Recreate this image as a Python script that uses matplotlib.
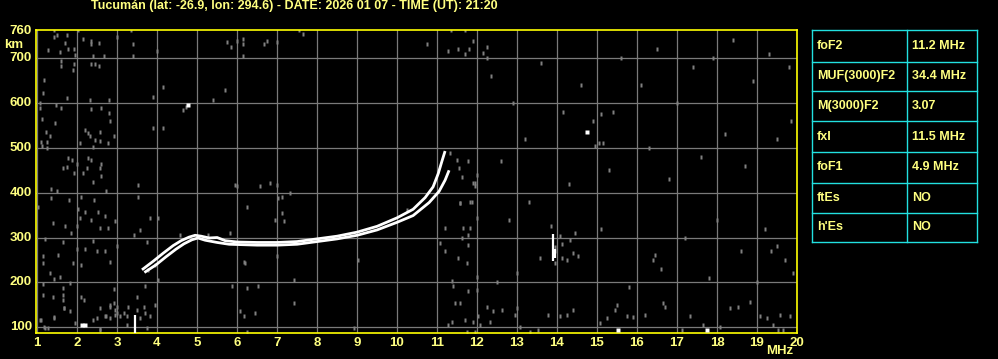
import matplotlib
matplotlib.use("Agg")
import matplotlib.pyplot as plt

# ---------------- data ----------------
title = "Tucumán (lat: -26.9, lon: 294.6) - DATE: 2026 01 07 - TIME (UT): 21:20"
x_ticks = list(range(1, 21))
y_ticks = [100, 200, 300, 400, 500, 600, 700, 760]

# ordinary trace
o_f = [3.62, 3.9, 4.15, 4.4, 4.6, 4.8, 4.95, 5.1, 5.3, 5.5, 5.7, 6.0, 6.5, 7.0, 7.5,
       8.0, 8.5, 9.0, 9.5, 10.0, 10.4, 10.7, 10.9, 11.03, 11.12, 11.2]
o_km = [228, 247, 265, 282, 293, 301, 305, 303, 299, 300, 293, 290, 289, 289, 291,
        297, 303, 312, 325, 344, 363, 389, 413, 443, 470, 493]
# extraordinary trace
x_f = [3.68, 3.97, 4.22, 4.47, 4.67, 4.87, 5.02, 5.2, 5.5, 5.8, 6.5, 7.0, 7.5,
       8.0, 8.5, 9.0, 9.5, 10.0, 10.4, 10.8, 11.05, 11.2, 11.3]
x_km = [222, 239, 257, 274, 286, 295, 299, 294, 289, 285, 283, 283, 285,
        291, 297, 305, 317, 334, 349, 378, 403, 428, 450]

# isolated bright echoes (segments)
seg_f = [3.44, 13.89, 13.95]
seg_km0 = [87, 248, 255]
seg_km1 = [127, 308, 275]
dot_f = [2.12, 2.2, 4.78, 14.74, 15.53, 17.74]
dot_km = [104, 104, 596, 536, 94, 94]

# grey noise speckles
noise_f = [1.41, 1.49, 1.41, 1.74, 1.70, 1.57, 1.78, 1.93, 1.95, 1.28, 2.01, 2.14, 2.34, 2.34,
           2.55, 2.39, 2.66, 2.99, 3.34, 3.39, 3.39, 3.99, 5.74, 5.84, 5.99, 6.14, 6.14, 6.66,
           6.74, 6.99, 7.54, 7.64, 6.14, 10.74, 11.34, 11.7, 11.89, 11.28, 11.53, 11.8, 11.7,
           12.14, 12.24,
           1.16, 1.14, 1.06, 1.48, 1.59, 1.74, 1.89, 1.91, 1.59, 1.59, 2.34, 2.45, 2.55, 2.31,
           2.34, 2.59, 2.8, 2.8, 2.83, 1.06, 1.12, 1.22, 1.33, 1.45, 1.09, 1.24, 1.12, 1.24,
           2.08, 2.2, 2.28, 2.31, 2.45, 2.56, 2.78, 2.91, 2.39, 2.56, 1.78, 1.87, 1.64, 1.74,
           1.91, 1.99, 2.14, 2.24, 2.26, 2.34, 2.56, 2.59, 2.59, 2.39, 1.34, 1.49, 1.34, 1.8,
           2.09, 2.41, 2.73, 1.03, 1.39, 1.7, 1.84, 1.99, 2.06, 2.2, 2.34, 2.51, 2.7, 2.56,
           2.78, 2.95, 2.02, 1.2, 1.64, 1.99, 2.2, 2.39, 2.49, 2.7, 2.81, 2.99, 1.14, 1.14,
           1.53, 1.56, 1.89, 2.1, 1.33, 1.41, 1.14, 1.14, 1.39, 1.64, 1.64, 1.64, 1.66, 1.83,
           2.1, 2.16, 2.91, 2.83, 2.99, 2.58, 2.73, 2.83, 2.95, 1.09, 1.2, 1.41, 2.58, 2.39,
           1.08, 1.16, 1.28, 1.41, 1.66, 1.83, 1.95, 2.58, 2.49, 2.7, 2.83, 2.91, 2.95, 2.99,
           3.08, 3.16, 3.24, 3.28, 3.24, 3.49, 3.58, 3.66, 3.7, 3.83, 3.95, 3.74, 6.08, 6.16,
           6.45, 6.24, 7.41, 8.91, 11.28, 11.37, 11.7, 11.91, 12.03, 12.08, 12.33, 12.41,
           12.24, 11.74, 11.95, 11.45, 11.58,
           13.78, 14.41, 14.08, 14.24, 15.08, 15.24, 15.45, 15.49, 15.74, 15.91, 16.2, 16.66,
           16.7, 17.12, 17.33, 17.66, 18.08, 18.33, 18.53, 18.83, 19.08, 19.24, 19.41, 19.53,
           19.66, 19.58, 19.83, 13.33, 13.53, 12.62, 12.95, 12.99, 13.08,
           3.53, 3.53, 3.41, 3.58, 3.74, 3.83, 4.03, 3.78, 3.95, 3.7, 3.49, 4.03, 4.58, 5.28,
           5.83, 5.95, 5.99, 6.24, 6.58, 6.83, 6.99, 7.03, 7.12, 7.12, 7.16, 6.95, 6.16, 6.2,
           5.87, 6.24, 6.53, 6.99, 7.41, 7.33, 9.03, 10.24, 11.2, 11.58, 11.87, 11.91, 11.62,
           11.08, 11.78, 11.82, 11.2, 11.74, 11.53, 11.37, 11.41, 11.99, 11.99, 11.78, 11.95,
           11.33, 11.49, 11.56, 11.62, 11.78, 11.99, 11.95, 11.58, 11.83, 11.66, 11.78, 11.99,
           13.84, 14.08, 14.12, 14.33, 14.45, 14.41, 14.12, 14.24, 13.95, 13.95, 13.95, 14.53,
           13.58,
           4.14, 3.89, 4.73, 4.64, 5.39, 5.7, 3.89, 4.14,
           14.14, 15.09, 15.39, 14.95, 15.06, 15.14,
           12.25, 12.35, 12.9, 13.6, 14.6, 14.9, 15.6, 16.1, 16.5, 17.0, 17.4, 17.9, 18.4,
           18.9, 19.3, 19.8, 12.6, 13.2, 14.3, 15.3, 16.3, 16.8, 17.6, 18.2, 18.7, 19.5,
           19.85, 12.8, 13.3, 15.1, 16.4, 16.45, 17.2, 18.0, 18.6, 19.2, 19.35, 19.5, 19.7,
           12.5, 13.0, 15.8, 16.6, 17.8, 19.0, 19.9]
noise_km = [762, 752, 748, 752, 733, 715, 720, 720, 707, 719, 762, 743, 739, 731,
            735, 704, 706, 748, 762, 731, 706, 717, 737, 724, 739, 743, 731, 731,
            739, 737, 762, 753, 704, 731, 762, 762, 739, 717, 721, 721, 709,
            711, 726,
            652, 622, 601, 596, 590, 612, 674, 687, 693, 683, 687, 687, 683, 607,
            586, 590, 607, 577, 559, 590, 564, 536, 527, 555, 514, 514, 505, 499,
            512, 540, 533, 527, 518, 516, 512, 527, 501, 536, 477, 472, 455, 457,
            444, 464, 444, 455, 477, 472, 455, 464, 438, 423, 409, 404, 388, 383,
            390, 383, 403, 369, 332, 325, 311, 325, 343, 356, 339, 356, 347, 321,
            321, 336, 363, 297, 289, 274, 274, 293, 271, 269, 246, 280, 258, 244,
            261, 213, 243, 239, 220, 207, 197, 172, 167, 187, 172, 161, 142, 198,
            168, 161, 185, 150, 146, 142, 124, 120, 128, 116, 98, 122, 96, 116,
            116, 101, 98, 120, 142, 135, 109, 94, 120, 124, 146, 154, 139, 131,
            124, 131, 124, 146, 105, 139, 120, 146, 131, 124, 150, 98, 135, 124,
            131, 90, 154, 98, 105, 112, 116, 112, 124, 105, 112, 135,
            146, 90, 90, 154, 154,
            127, 139, 124, 127, 109, 120, 139, 150, 124, 122, 127, 154,
            146, 94, 124, 105, 101, 142, 146, 157, 124, 120, 105, 94,
            94, 127, 124, 90, 94, 139, 127, 142, 101,
            417, 391, 306, 317, 291, 343, 343, 228, 239, 191, 168, 205, 306, 306,
            310, 417, 414, 369, 414, 421, 417, 388, 391, 354, 336, 339, 246, 243,
            191, 187, 191, 258, 205, 399, 250, 362, 321, 377, 380, 421, 298,
            287, 284, 321, 269, 243, 254, 202, 191, 213, 183, 180, 414,
            488, 473, 455, 436, 470, 440, 421, 377, 380, 321, 306, 343,
            325, 304, 286, 295, 311, 265, 254, 250, 278, 269, 243, 258,
            254,
            635, 613, 592, 585, 607, 629, 545, 544,
            579, 576, 579, 504, 510, 512,
            700, 660, 600, 690, 640, 560, 700, 640, 720, 600, 680, 700, 740,
            650, 710, 680, 470, 520, 420, 450, 500, 430, 480, 530, 460, 520,
            560, 340, 380, 320, 250, 262, 300, 340, 270, 320, 270, 280, 250,
            200, 220, 190, 230, 210, 200, 220]

table_labels = ["foF2", "MUF(3000)F2", "M(3000)F2", "fxI", "foF1", "ftEs", "h'Es"]
table_values = ["11.2 MHz", "34.4 MHz", "3.07", "11.5 MHz", "4.9 MHz", "NO", "NO"]

# ---------------- style ----------------
W, H = 998, 359
YEL = "#FFFF80"
BORDER = "#FFFF00"
CYAN = "#22E0E0"
GRID = "#7a7a7a"
FONT = ["Liberation Sans", "DejaVu Sans"]

fig = plt.figure(figsize=(W / 100, H / 100), dpi=100, facecolor="black")
L, R, T, B = 36, 797, 30, 333
ax = fig.add_axes([L / W, (H - B) / H, (R - L) / W, (B - T) / H], facecolor="black")
ax.set_xlim(0.97, 20.0)
ax.set_ylim(87, 763)

for f in x_ticks:
    ax.axvline(f, color=GRID, lw=0.9, zorder=1)
for k in y_ticks[:-1]:
    ax.axhline(k, color=GRID, lw=0.9, zorder=1)

speck = [(-1, -1.6), (1, -1.6), (1, 1.6), (-1, 1.6)]
ax.plot(noise_f, noise_km, ls="", marker=speck, ms=2.6, color="#808080", mec="none", zorder=2)

ax.plot(o_f, o_km, color="white", lw=2.0, solid_capstyle="butt", zorder=3)
ax.plot(x_f, x_km, color="white", lw=2.0, solid_capstyle="butt", zorder=3)
ax.vlines(seg_f, seg_km0, seg_km1, color="white", lw=1.6, zorder=3)
ax.plot(dot_f, dot_km, ls="", marker="s", ms=2.2, color="white", mec="none", zorder=3)

for s in ax.spines.values():
    s.set_color(BORDER)
    s.set_linewidth(1.2)
ax.set_xticks([])
ax.set_yticks([])

# overlay axes in pixel coordinates for labels and table
ov = fig.add_axes([0, 0, 1, 1], facecolor="none")
ov.set_xlim(0, W)
ov.set_ylim(H, 0)
ov.axis("off")

def xpix(f):
    return L + 1 + (f - 1) * 40.0

def ypix(k):
    return 327.3 - (k - 100) * 0.4483

txt = dict(color=YEL, fontsize=9.5, fontweight="bold", family=FONT)
for f in x_ticks:
    ov.text(xpix(f), 343, str(f), ha="center", va="center", **txt)
for k in y_ticks:
    yy = ypix(k) if k != 760 else 31
    ov.text(32, yy, str(k), ha="right", va="center", **txt)
ov.text(14, 45.5, "km", ha="center", va="center", **txt)
ov.text(780, 351, "MHz", ha="center", va="center", **txt)
ov.text(294, 6.5, title, ha="center", va="center", color=YEL, fontsize=9,
        fontweight="bold", family=FONT)

# table
tx0, tx1, tx2 = 812, 907, 977
rows = [30.3, 61.5, 91.3, 121.3, 151.7, 182.7, 212.7, 242.3]
for yb in rows:
    ov.plot([tx0, tx2], [yb, yb], color=CYAN, lw=1.0)
for xb in (tx0, tx1, tx2):
    ov.plot([xb, xb], [rows[0], rows[-1]], color=CYAN, lw=1.0)
for i, (lab, val) in enumerate(zip(table_labels, table_values)):
    yc = (rows[i] + rows[i + 1]) / 2
    ov.text(817, yc, lab, ha="left", va="center", color=YEL, fontsize=9,
            fontweight="bold", family=FONT)
    ov.text(912, yc, val, ha="left", va="center", color=YEL, fontsize=9,
            fontweight="bold", family=FONT)

fig.savefig("out.png", dpi=100, facecolor="black")
